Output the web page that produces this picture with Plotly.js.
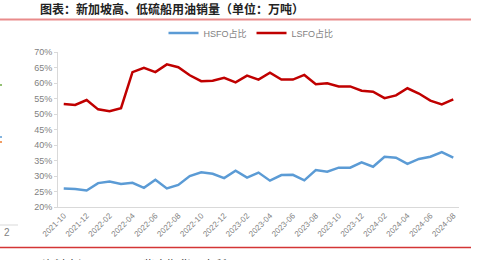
<!DOCTYPE html>
<html><head><meta charset="utf-8">
<script src="https://cdn.plot.ly/plotly-3.0.1.min.js"></script>
<style>html,body{margin:0;padding:0;background:#fff;}#c{width:483px;height:260px;}</style>
</head><body><div id="c"></div>
<script>
const months = ["2021-10","2021-11","2021-12","2022-01","2022-02","2022-03","2022-04","2022-05","2022-06","2022-07","2022-08","2022-09","2022-10","2022-11","2022-12","2023-01","2023-02","2023-03","2023-04","2023-05","2023-06","2023-07","2023-08","2023-09","2023-10","2023-11","2023-12","2024-01","2024-02","2024-03","2024-04","2024-05","2024-06","2024-07","2024-08"];
const hsfoShare = [26.0,25.8,25.3,27.7,28.2,27.4,27.8,26.2,28.8,26.0,27.1,30.0,31.2,30.7,29.3,31.7,29.5,31.1,28.5,30.3,30.4,28.6,31.9,31.4,32.7,32.7,34.4,33.0,36.2,35.9,33.9,35.5,36.2,37.7,35.9];
const lsfoShare = [53.2,52.9,54.5,51.5,50.9,51.9,63.5,64.9,63.5,66.0,65.1,62.5,60.6,60.7,61.7,60.2,62.4,61.1,63.3,61.1,61.1,62.6,59.6,59.9,58.9,58.9,57.5,57.2,55.1,56.0,58.3,56.6,54.3,53.1,54.7];
const tickLabels = months.filter((m,i)=>i%2===0);
const seriesNames = ["HSFO占比","LSFO占比"];
const titleText = "图表：新加坡高、低硫船用油销量（单位：万吨）";
const sourceText = "资料来源：iFinD，紫金期货研究所";

const L=58, R=459, T=52, B=207;
const px = x => (x-L)/(R-L);
const py = y => (B-y)/(B-T);
const fontFam = "Liberation Sans, Arial, Noto Sans CJK SC, sans-serif";

const traces = [
  {x: months, y: hsfoShare, name: seriesNames[0], type:'scatter', mode:'lines', line:{color:'#5b9bd5', width:2.5}},
  {x: months, y: lsfoShare, name: seriesNames[1], type:'scatter', mode:'lines', line:{color:'#c00000', width:2.5}}
];
const layout = {
  width:483, height:260,
  margin:{l:L, r:483-R, t:T, b:260-B, pad:0},
  paper_bgcolor:'#fff', plot_bgcolor:'#fff',
  font:{family:fontFam, color:'#7f7f7f', size:9},
  showlegend:true,
  legend:{orientation:'h', x:px(251), xanchor:'center', y:py(33), yanchor:'middle', font:{size:9, color:'#7f7f7f', family:fontFam}, bgcolor:'rgba(0,0,0,0)', itemwidth:30, tracegroupgap:0},
  xaxis:{type:'category', categoryorder:'array', categoryarray:months, range:[-0.5, months.length-0.5],
         tickmode:'array', tickvals:tickLabels, ticktext:tickLabels, tickangle:-45,
         tickfont:{size:8, color:'#7f7f7f'}, showgrid:false, showline:true, linecolor:'#d9d9d9', linewidth:1, ticks:'', zeroline:false},
  yaxis:{range:[20,70], dtick:5, tick0:20, ticksuffix:'%', showgrid:false, showline:true, linecolor:'#d9d9d9', linewidth:1,
         ticks:'outside', ticklen:3, tickcolor:'#d9d9d9', tickfont:{size:9, color:'#7f7f7f'}, zeroline:false},
  shapes:[
    {type:'line', xref:'paper', yref:'paper', x0:px(0), x1:px(471), y0:py(19.5), y1:py(19.5), line:{color:'#e98b8b', width:2}},
    {type:'line', xref:'paper', yref:'paper', x0:px(0), x1:px(471), y0:py(247.5), y1:py(247.5), line:{color:'#d43535', width:1.5}},
    {type:'line', xref:'paper', yref:'paper', x0:px(0), x1:px(18), y0:py(225), y1:py(225), line:{color:'#d9d9d9', width:1}},
    {type:'line', xref:'paper', yref:'paper', x0:px(0), x1:px(2), y0:py(85), y1:py(85), line:{color:'#70ad47', width:1.5}},
    {type:'line', xref:'paper', yref:'paper', x0:px(0), x1:px(2), y0:py(137), y1:py(137), line:{color:'#5b9bd5', width:1.5}},
    {type:'line', xref:'paper', yref:'paper', x0:px(0), x1:px(2), y0:py(142), y1:py(142), line:{color:'#ed7d31', width:1.5}}
  ],
  annotations:[
    {text:'<b>'+titleText+'</b>', xref:'paper', yref:'paper', x:px(38), xanchor:'left', y:py(8.5), yanchor:'middle', showarrow:false,
     font:{family:'Noto Sans CJK SC', size:12, color:'#222'}},
    {text:sourceText, xref:'paper', yref:'paper', x:px(40), xanchor:'left', y:py(264), yanchor:'middle', showarrow:false,
     font:{family:'Noto Sans CJK SC', size:12, color:'#333'}},
    {text:'2', xref:'paper', yref:'paper', x:px(2), xanchor:'left', y:py(232), yanchor:'middle', showarrow:false,
     font:{size:10, color:'#7f7f7f'}}
  ]
};
Plotly.newPlot('c', traces, layout, {displayModeBar:false, staticPlot:true});
</script></body></html>
